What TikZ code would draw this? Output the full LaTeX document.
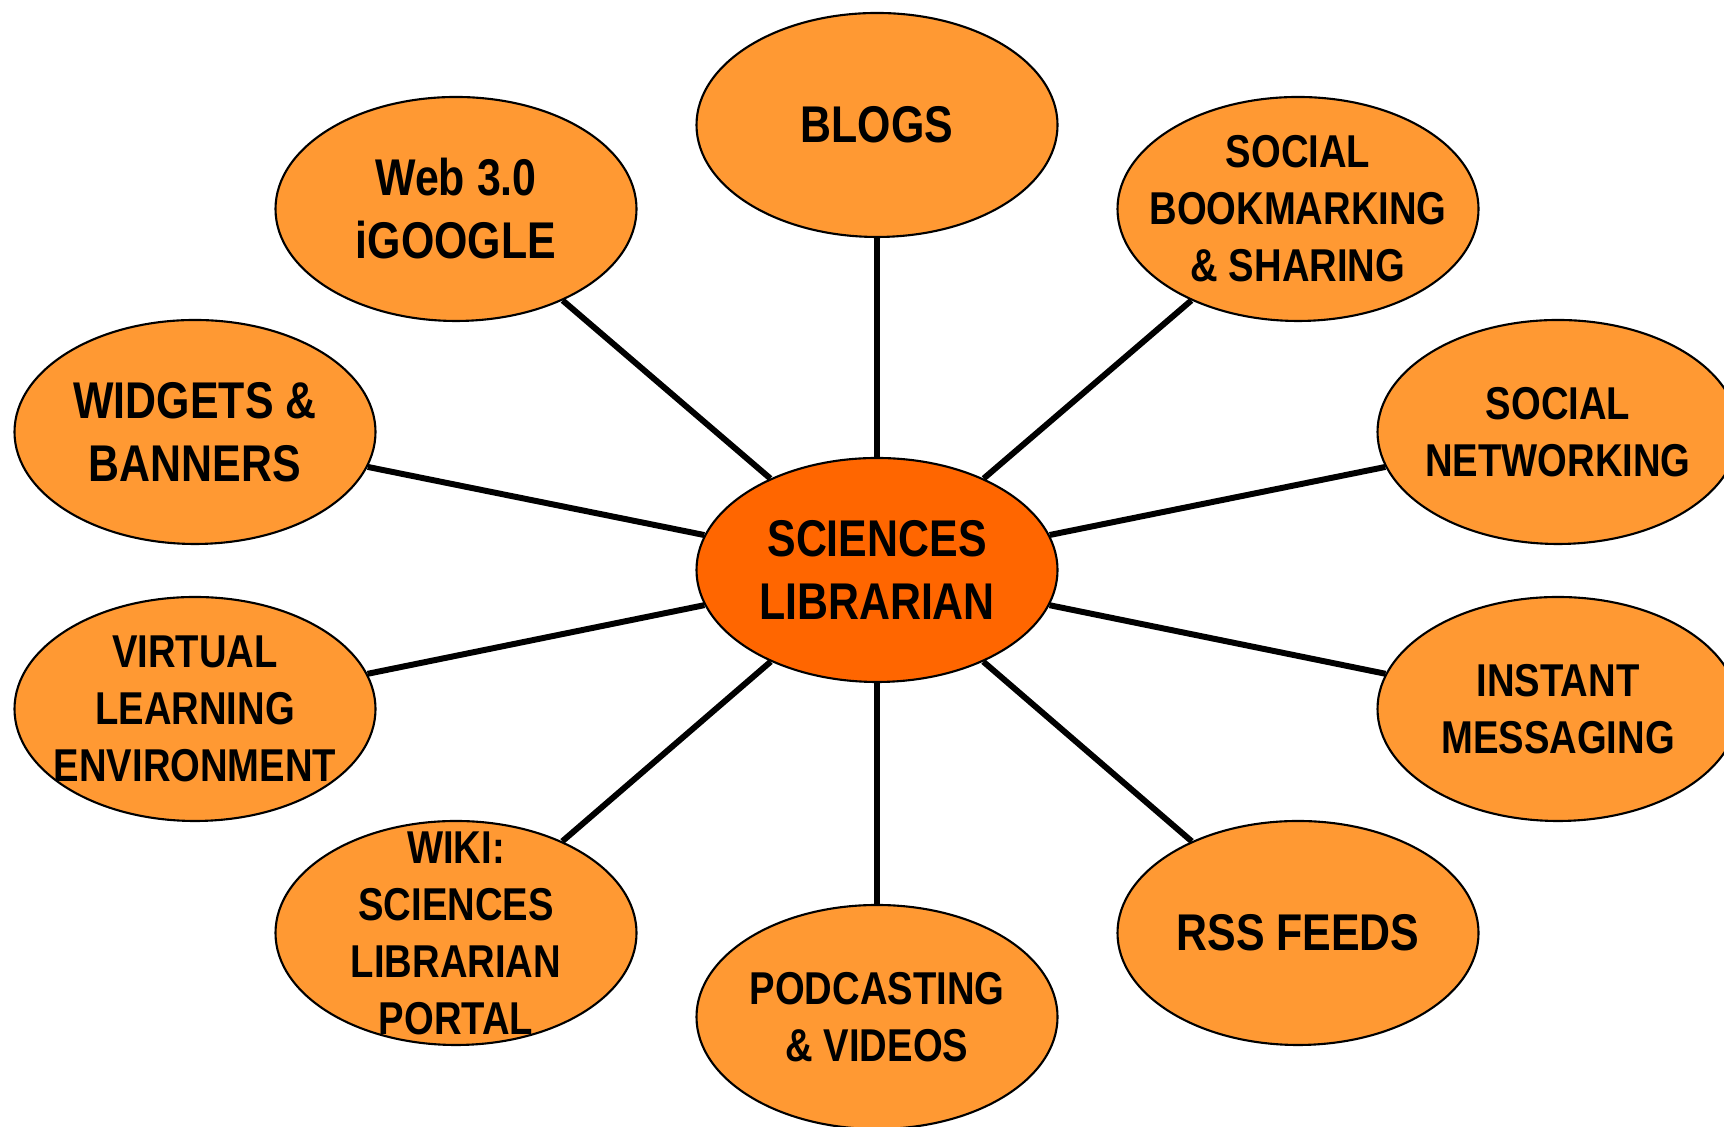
\documentclass[tikz,border=0pt]{standalone}
\usepackage{fontspec}
\setmainfont[FakeStretch=0.83]{Liberation Sans}
\usetikzlibrary{shapes.geometric}
\definecolor{lightorange}{HTML}{FF9933}
\definecolor{deeporange}{HTML}{FF6600}
\begin{document}
\begin{tikzpicture}[
  bubble/.style={ellipse, draw, line width=0.6pt, fill=lightorange,
    minimum width=3.61cm, minimum height=2.24cm, inner sep=0pt},
  big/.style={font=\bfseries\fontsize{14.7}{17.9}\selectfont, align=center},
  small/.style={font=\bfseries\fontsize{13.1}{16.2}\selectfont, align=center},
  spoke/.style={line width=1.7pt}]
  \fill[white] (0,0) rectangle (17.24,11.27);
  \useasboundingbox (0,0) rectangle (17.24,11.27);

  % Hub
  \node[bubble, fill=deeporange, label={[big]center:SCIENCES\\LIBRARIAN}] (lib) at (8.77,5.57) {};

  % Top row
  \node[bubble, label={[big]center:BLOGS}] (blogs) at (8.77,10.02) {};
  \node[bubble, label={[big]center:Web 3.0\\iGOOGLE}] (web) at (4.56,9.18) {};
  \node[bubble, label={[small]center:SOCIAL\\BOOKMARKING\\\& SHARING}] (bookmark) at (12.98,9.18) {};

  % Sides
  \node[bubble, label={[big]center:WIDGETS \&\\BANNERS}] (widgets) at (1.95,6.95) {};
  \node[bubble, label={[small]center:SOCIAL\\NETWORKING}] (network) at (15.58,6.95) {};
  \node[bubble, label={[small]center:VIRTUAL\\LEARNING\\ENVIRONMENT}] (virtual) at (1.95,4.18) {};
  \node[bubble, label={[small]center:INSTANT\\MESSAGING}] (instant) at (15.58,4.18) {};

  % Bottom row
  \node[bubble, label={[small]center:WIKI:\\SCIENCES\\LIBRARIAN\\PORTAL}] (wiki) at (4.56,1.94) {};
  \node[bubble, label={[big]center:RSS FEEDS}] (rss) at (12.98,1.94) {};
  \node[bubble, label={[small]center:PODCASTING\\\& VIDEOS}] (podcast) at (8.77,1.10) {};

  % Spokes
  \draw[spoke] (lib) -- (blogs);
  \draw[spoke] (lib) -- (web);
  \draw[spoke] (lib) -- (bookmark);
  \draw[spoke] (lib) -- (widgets);
  \draw[spoke] (lib) -- (network);
  \draw[spoke] (lib) -- (virtual);
  \draw[spoke] (lib) -- (instant);
  \draw[spoke] (lib) -- (wiki);
  \draw[spoke] (lib) -- (rss);
  \draw[spoke] (lib) -- (podcast);
\end{tikzpicture}
\end{document}
